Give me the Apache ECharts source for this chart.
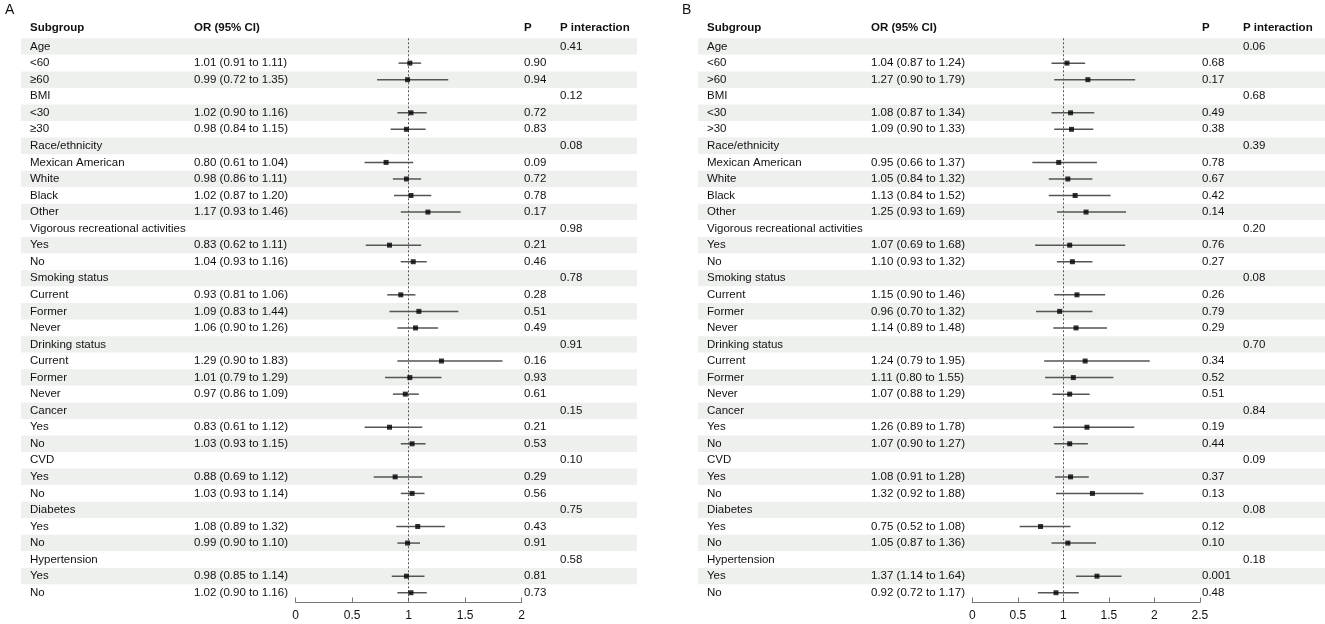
<!DOCTYPE html>
<html><head><meta charset="utf-8">
<script src="https://cdn.jsdelivr.net/npm/echarts@6/dist/echarts.min.js"></script>
<style>html,body{margin:0;padding:0;background:#fff}#c{width:1325px;height:624px}</style>
</head><body><div id="c"></div><script>
// ---------- DATA ----------
const headers = ['Subgroup', 'OR (95% CI)', 'P', 'P interaction'];

const subgroupsA = ['Age','<60','≥60','BMI','<30','≥30','Race/ethnicity','Mexican American','White','Black','Other',
  'Vigorous recreational activities','Yes','No','Smoking status','Current','Former','Never','Drinking status','Current','Former','Never',
  'Cancer','Yes','No','CVD','Yes','No','Diabetes','Yes','No','Hypertension','Yes','No'];
const orA  = [null,1.01,0.99,null,1.02,0.98,null,0.80,0.98,1.02,1.17,null,0.83,1.04,null,0.93,1.09,1.06,null,1.29,1.01,0.97,null,0.83,1.03,null,0.88,1.03,null,1.08,0.99,null,0.98,1.02];
const loA  = [null,0.91,0.72,null,0.90,0.84,null,0.61,0.86,0.87,0.93,null,0.62,0.93,null,0.81,0.83,0.90,null,0.90,0.79,0.86,null,0.61,0.93,null,0.69,0.93,null,0.89,0.90,null,0.85,0.90];
const hiA  = [null,1.11,1.35,null,1.16,1.15,null,1.04,1.11,1.20,1.46,null,1.11,1.16,null,1.06,1.44,1.26,null,1.83,1.29,1.09,null,1.12,1.15,null,1.12,1.14,null,1.32,1.10,null,1.14,1.16];
const pA   = ['','0.90','0.94','','0.72','0.83','','0.09','0.72','0.78','0.17','','0.21','0.46','','0.28','0.51','0.49','','0.16','0.93','0.61','','0.21','0.53','','0.29','0.56','','0.43','0.91','','0.81','0.73'];
const pintA= ['0.41','','','0.12','','','0.08','','','','','0.98','','','0.78','','','','0.91','','','','0.15','','','0.10','','','0.75','','','0.58','',''];

const subgroupsB = ['Age','<60','>60','BMI','<30','>30','Race/ethnicity','Mexican American','White','Black','Other',
  'Vigorous recreational activities','Yes','No','Smoking status','Current','Former','Never','Drinking status','Current','Former','Never',
  'Cancer','Yes','No','CVD','Yes','No','Diabetes','Yes','No','Hypertension','Yes','No'];
const orB  = [null,1.04,1.27,null,1.08,1.09,null,0.95,1.05,1.13,1.25,null,1.07,1.10,null,1.15,0.96,1.14,null,1.24,1.11,1.07,null,1.26,1.07,null,1.08,1.32,null,0.75,1.05,null,1.37,0.92];
const loB  = [null,0.87,0.90,null,0.87,0.90,null,0.66,0.84,0.84,0.93,null,0.69,0.93,null,0.90,0.70,0.89,null,0.79,0.80,0.88,null,0.89,0.90,null,0.91,0.92,null,0.52,0.87,null,1.14,0.72];
const hiB  = [null,1.24,1.79,null,1.34,1.33,null,1.37,1.32,1.52,1.69,null,1.68,1.32,null,1.46,1.32,1.48,null,1.95,1.55,1.29,null,1.78,1.27,null,1.28,1.88,null,1.08,1.36,null,1.64,1.17];
const pB   = ['','0.68','0.17','','0.49','0.38','','0.78','0.67','0.42','0.14','','0.76','0.27','','0.26','0.79','0.29','','0.34','0.52','0.51','','0.19','0.44','','0.37','0.13','','0.12','0.10','','0.001','0.48'];
const pintB= ['0.06','','','0.68','','','0.39','','','','','0.20','','','0.08','','','','0.70','','','','0.84','','','0.09','','','0.08','','','0.18','',''];

const xMaxA = 2, xMaxB = 2.5, xStep = 0.5;

// ---------- LAYOUT ----------
const FONT = '"Liberation Sans", Arial, sans-serif';
const FS = 11.5;
const TXT = '#111';
const TOP = 38.3, ROWH = 16.55, NROW = subgroupsA.length, H = ROWH * NROW;
const panels = [
  {letter:'A', letterX:5, tabL:21, tabR:637, plotL:295.7, plotW:226, xMax:xMaxA,
   cols:[30,194,524,560], sub:subgroupsA, or:orA, lo:loA, hi:hiA, p:pA, pint:pintA},
  {letter:'B', letterX:682, tabL:698, tabR:1325, plotL:972.3, plotW:227.5, xMax:xMaxB,
   cols:[707,871,1202,1243], sub:subgroupsB, or:orB, lo:loB, hi:hiB, p:pB, pint:pintB}
];

const grid = [], xAxis = [], yAxis = [], series = [], graphic = [];
const rowIdx = subgroupsA.map((_, i) => i);
const fmt = v => v.toFixed(2);

panels.forEach((P, k) => {
  const gT = grid.length;
  grid.push({left:P.tabL, top:TOP, width:P.tabR - P.tabL, height:H, containLabel:false, outerBoundsMode:'none'});
  xAxis.push({gridIndex:gT, type:'value', min:0, max:1, show:false});
  yAxis.push({gridIndex:gT, type:'category', inverse:true, data:rowIdx, boundaryGap:true,
    axisLine:{show:false}, axisTick:{show:false}, axisLabel:{show:false}, splitLine:{show:false},
    splitArea:{show:true, interval:0, areaStyle:{color:['#eef0ee','#ffffff']}}});
  const gP = grid.length;
  grid.push({left:P.plotL, top:TOP, width:P.plotW, height:H, containLabel:false, outerBoundsMode:'none'});
  xAxis.push({gridIndex:gP, type:'value', min:0, max:P.xMax, interval:xStep, position:'bottom', offset:1.5,
    axisLine:{show:true, lineStyle:{color:'#777', width:1}},
    axisTick:{show:true, inside:true, length:5, lineStyle:{color:'#777'}},
    axisLabel:{show:true, margin:7, color:TXT, fontSize:12, fontFamily:FONT, formatter:v => String(v)},
    splitLine:{show:false}});
  yAxis.push({gridIndex:gP, type:'category', inverse:true, data:rowIdx, show:false});

  // table text
  series.push({
    type:'custom', xAxisIndex:gT, yAxisIndex:gT, silent:true, z:5,
    data: rowIdx.map(i => [0, i]),
    renderItem: (params, api) => {
      const i = api.value(1);
      const y = api.coord([0, i])[1];
      const texts = [P.sub[i], P.or[i] == null ? '' : `${fmt(P.or[i])} (${fmt(P.lo[i])} to ${fmt(P.hi[i])})`, P.p[i], P.pint[i]];
      return {type:'group', children: texts.map((t, c) => ({
        type:'text', x:P.cols[c], y:y,
        style:{text:t, fill:TXT, fontSize:FS, fontFamily:FONT, align:'left', verticalAlign:'middle'}
      }))};
    }
  });
  // CI lines
  const ciData = [];
  rowIdx.forEach(i => { if (P.or[i] != null) ciData.push([P.lo[i], P.hi[i], i]); });
  series.push({
    type:'custom', xAxisIndex:gP, yAxisIndex:gP, silent:true, z:6,
    encode:{x:[0,1], y:2},
    data: ciData,
    renderItem: (params, api) => {
      const a = api.coord([api.value(0), api.value(2)]);
      const b = api.coord([api.value(1), api.value(2)]);
      return {type:'line', shape:{x1:a[0], y1:a[1], x2:b[0], y2:b[1]},
        style:{stroke:'#555', lineWidth:1.5}};
    }
  });
  // point estimates + reference line
  series.push({
    type:'scatter', xAxisIndex:gP, yAxisIndex:gP, silent:true, z:8,
    symbol:'rect', symbolSize:5, itemStyle:{color:'#000'},
    data: rowIdx.filter(i => P.or[i] != null).map(i => [P.or[i], i]),
    markLine:{silent:true, symbol:'none', label:{show:false}, animation:false,
      lineStyle:{type:[2,2], color:'#555', width:1},
      data:[{xAxis:1}]}
  });

  // headers & panel letter
  headers.forEach((h, c) => graphic.push({type:'text', left:P.cols[c], top:22,
    style:{text:h, fill:TXT, fontSize:FS, fontWeight:'bold', fontFamily:FONT}}));
  graphic.push({type:'text', left:P.letterX, top:3,
    style:{text:P.letter, fill:TXT, fontSize:14, fontFamily:FONT}});
});

const chart = echarts.init(document.getElementById('c'), null, {renderer:'canvas'});
chart.setOption({animation:false, backgroundColor:'#fff', grid, xAxis, yAxis, series, graphic});
</script></body></html>
